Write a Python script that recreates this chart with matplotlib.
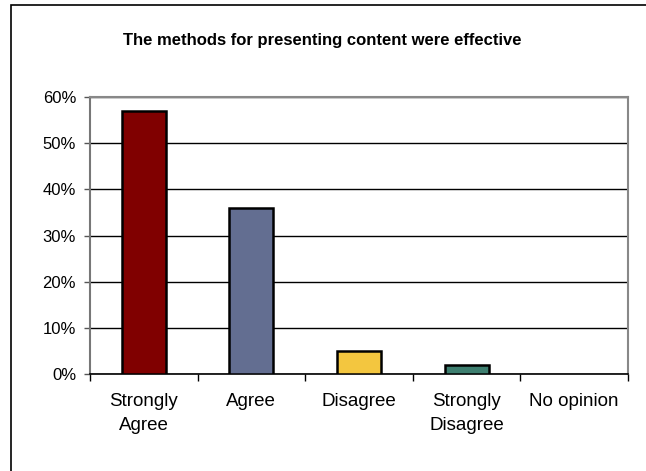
import numpy as np
import matplotlib
matplotlib.use('Agg')
import matplotlib.pyplot as plt
from matplotlib.patches import Rectangle
from matplotlib.ticker import FuncFormatter

# 数据
categories = ['Strongly\nAgree', 'Agree', 'Disagree', 'Strongly\nDisagree', 'No opinion']
values = [57, 36, 5, 2, 0]
colors = ['#800000', '#636E91', '#F3C63F', '#3E7F70', '#FFFFFF']
title = 'The methods for presenting content were effective'

plt.rcParams['font.family'] = ['Liberation Sans', 'DejaVu Sans']

W, H = 646, 471
fig = plt.figure(figsize=(W / 100, H / 100), dpi=100)

# 外框
fig.patches.append(Rectangle((11 / W, -0.05), 1.1, 1 - 5 / H + 0.05,
                             transform=fig.transFigure, fill=False,
                             edgecolor='black', linewidth=1.2))

left, right, top, bottom = 90, 628, 97, 374
ax = fig.add_axes([left / W, 1 - bottom / H, (right - left) / W, (bottom - top) / H])

x = np.arange(len(categories))
# 0值的柱子不画边框
lw = [1.8 if v > 0 else 0 for v in values]
ax.bar(x, values, width=0.41, color=colors, edgecolor='black', linewidth=lw, zorder=3)

ax.set_xlim(-0.5, len(categories) - 0.5)
ax.set_ylim(0, 60)
ax.set_yticks(np.arange(0, 61, 10))
ax.yaxis.set_major_formatter(FuncFormatter(lambda v, p: '%d%%' % v))
ax.grid(axis='y', color='black', linewidth=1.0, zorder=0)

ax.set_xticks(x)
ax.set_xticklabels(categories, fontsize=13.5, linespacing=1.5)
ax.set_xticks(np.arange(-0.5, len(categories)), minor=True)
ax.tick_params(axis='x', which='major', length=0, pad=14)
ax.tick_params(axis='x', which='minor', length=5, width=1, color='black', direction='out')
ax.tick_params(axis='y', length=4, width=1, color='#555555', labelsize=12, pad=6)

for s in ['top', 'right']:
    ax.spines[s].set_color('#888888')
    ax.spines[s].set_linewidth(1.5)
ax.spines['left'].set_color('#777777')
ax.spines['left'].set_linewidth(1.5)
ax.spines['bottom'].set_color('black')
ax.spines['bottom'].set_linewidth(1.2)

fig.text(322 / W, 1 - 40 / H, title, ha='center', va='center',
         fontsize=12, fontweight='bold')

fig.savefig('out.png', dpi=100)
